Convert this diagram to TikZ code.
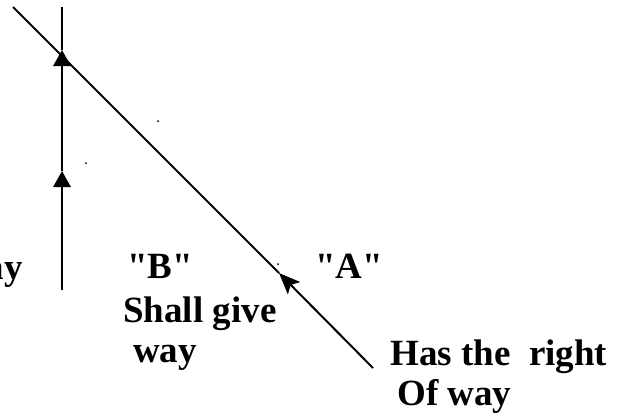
\documentclass[tikz,border=0pt]{standalone}
\usepackage{fontspec}
\newfontfamily\lblfont{Liberation Serif}
\usetikzlibrary{arrows.meta}
\begin{document}
\begin{tikzpicture}[x=0.75pt,y=-0.75pt,
  road/.style={line width=1.5pt,black},
  uparrow/.style={road,-{Triangle[length=12pt,width=13pt]}},
  diagarrow/.style={road,-{Stealth[length=16pt,width=13pt,inset=3.5pt]}},
  lbl/.style={inner sep=0pt,font=\lblfont\fontsize{27.75}{32}\selectfont\bfseries},
  speck/.style={fill=black,inner sep=0pt,minimum size=1.5pt,circle}]
\useasboundingbox (0,0) rectangle (626,415);
\clip (0,0) rectangle (626,415);
% vertical road
\coordinate (vtop) at (62,7);
\coordinate (vh1) at (62,50);
\coordinate (vh2) at (62,171);
\coordinate (vbot) at (62,290);
\draw[uparrow] (vbot) -- (vh2);
\draw[uparrow] (vh2) -- (vh1);
\draw[road] (vh1) -- (vtop);
% diagonal road
\coordinate (dtop) at (13,7);
\coordinate (dtip) at (279,273);
\coordinate (dbot) at (373,368);
\draw[road] (dtop) -- (dtip);
\draw[diagarrow] (dbot) -- (dtip);
% specks
\node[speck] (s1) at (158,121) {};
\node[speck] (s2) at (86,163) {};
\node[speck] (s3) at (278,264) {};
% labels
\node[lbl,anchor=base east] (lw) at (23,279) {way};
\node[lbl,anchor=base west] (lb) at (127,278) {"B"};
\node[lbl,anchor=base west] (ls1) at (123,322) {Shall give};
\node[lbl,anchor=base west] (ls2) at (133,362) {way};
\node[lbl,anchor=base west] (la) at (315,278) {"A"};
\node[lbl,anchor=base west] (lh1) at (390,365) {Has the\ \ right};
\node[lbl,anchor=base west] (lh2) at (397,405) {Of way};
\end{tikzpicture}
\end{document}
